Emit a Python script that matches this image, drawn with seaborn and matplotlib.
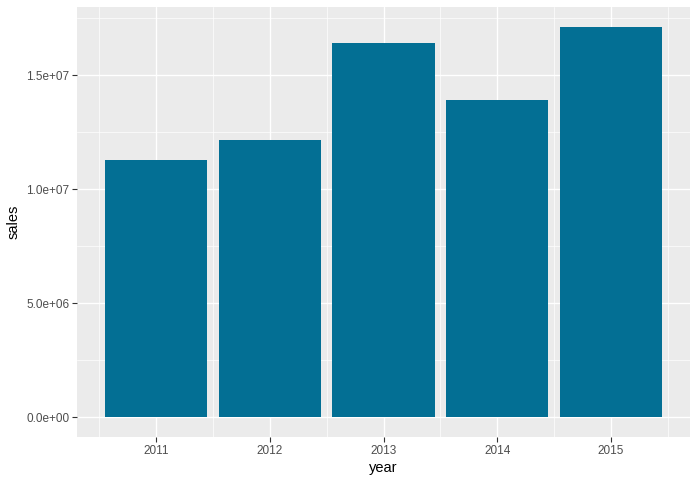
import numpy as np
import pandas as pd
import seaborn as sns
import matplotlib
matplotlib.use("Agg")
import matplotlib.pyplot as plt
from matplotlib.ticker import FixedLocator

years = [2011, 2012, 2013, 2014, 2015]
sales = [11270000, 12150000, 16440000, 13910000, 17140000]
y_ticks = [0, 5e6, 1e7, 1.5e7]
y_labels = ["0.0e+00", "5.0e+06", "1.0e+07", "1.5e+07"]

df = pd.DataFrame({"year": years, "sales": sales})

sns.set_style("darkgrid", {"axes.facecolor": "#EBEBEB", "grid.color": "white"})
plt.rcParams["font.family"] = ["Liberation Sans", "DejaVu Sans"]

fig = plt.figure(figsize=(6.98, 4.80), dpi=100)
ax = fig.add_axes([77 / 698, 1 - 437 / 480, 613 / 698, 430 / 480])

sns.barplot(data=df, x="year", y="sales", native_scale=True, width=0.9,
            color="#036F94", saturation=1, linewidth=0, edgecolor="none",
            ax=ax, zorder=3)

lo, hi = min(years) - 0.45, max(years) + 0.45
pad = (hi - lo) * 0.05
ax.set_xlim(lo - pad, hi + pad)
ymax = max(sales)
ax.set_ylim(-0.05 * ymax, 1.05 * ymax)

ax.xaxis.set_major_locator(FixedLocator(years))
ax.xaxis.set_minor_locator(FixedLocator([y + 0.5 for y in [years[0] - 1] + years]))
ax.set_xticklabels([str(y) for y in years])
ax.yaxis.set_major_locator(FixedLocator(y_ticks))
ax.yaxis.set_minor_locator(FixedLocator([2.5e6, 7.5e6, 1.25e7, 1.75e7]))
ax.set_yticklabels(y_labels)

ax.grid(which="major", color="white", linewidth=1.0, zorder=0)
ax.grid(which="minor", color="white", linewidth=0.5, zorder=0)
ax.set_axisbelow(True)
for s in ax.spines.values():
    s.set_visible(False)

ax.tick_params(axis="both", which="major", length=3.5, width=0.8, color="#333333",
               labelsize=8.5, labelcolor="#4D4D4D", pad=2, bottom=True, left=True)
ax.tick_params(axis="both", which="minor", length=0)

ax.set_xlabel("year", fontsize=10.5, color="black", labelpad=3)
ax.set_ylabel("sales", fontsize=10.5, color="black", labelpad=4)

fig.savefig("out.png", dpi=100)
